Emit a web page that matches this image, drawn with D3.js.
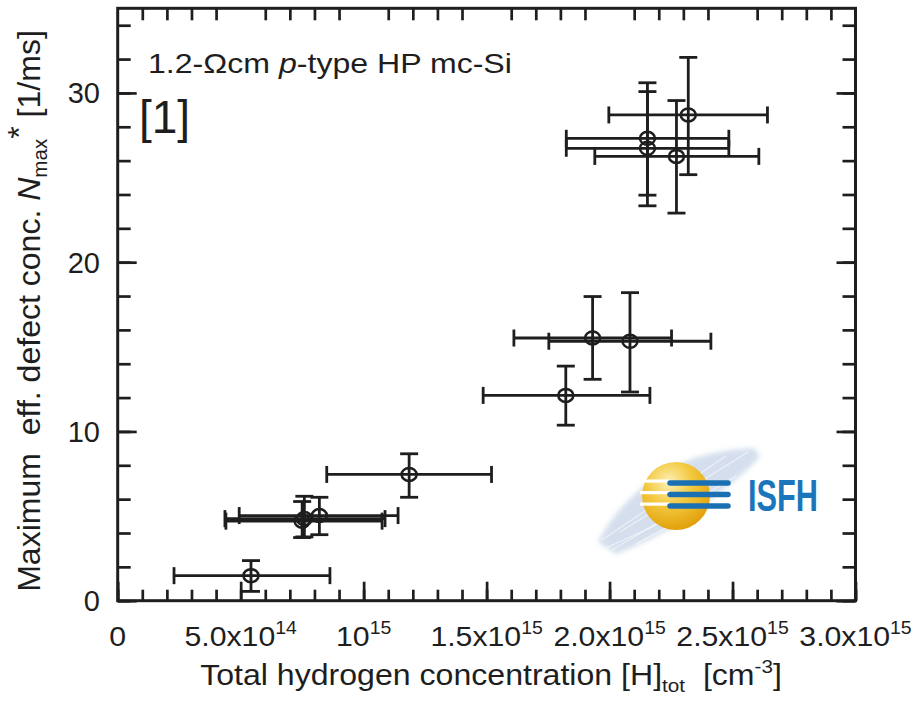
<!DOCTYPE html>
<html>
<head>
<meta charset="utf-8">
<script src="https://cdn.jsdelivr.net/npm/d3@7"></script>
<style>
  body { margin: 0; background: #fff; }
  svg { display: block; }
  text { font-family: "Liberation Sans", Arial, sans-serif; fill: #1e1e1e; }
</style>
</head>
<body>
<svg id="chart" width="917" height="710"></svg>
<script>
// hydrogen concentration [cm^-3] and N_max* [1/ms], with error bar limits
const hx     = [5.42e14, 7.59e14, 7.50e14, 8.20e14, 11.85e14, 18.22e14, 19.31e14, 20.83e14, 21.54e14, 21.54e14, 22.72e14, 23.20e14];
const hxLow  = [2.29e14, 4.36e14, 4.40e14, 4.94e14,  8.50e14, 14.86e14, 16.11e14, 17.53e14, 18.24e14, 18.24e14, 19.40e14, 19.97e14];
const hxHigh = [8.63e14, 10.87e14, 10.75e14, 11.40e14, 15.20e14, 21.64e14, 22.52e14, 24.12e14, 24.85e14, 24.85e14, 26.07e14, 26.42e14];
const ny     = [1.48, 4.85, 4.70, 5.03, 7.46, 12.13, 15.52, 15.33, 27.32, 26.73, 26.25, 28.70];
const nyLow  = [0.55, 3.77, 3.73, 3.90, 6.11, 10.37, 13.08, 12.33, 23.96, 23.33, 22.90, 25.17];
const nyHigh = [2.37, 6.17, 5.86, 6.11, 8.68, 13.86, 17.97, 18.20, 30.60, 30.08, 29.55, 32.10];

const xTickValues = [0, 5e14, 1e15, 1.5e15, 2e15, 2.5e15, 3e15];
const xTickBase   = ["0", "5.0x10", "10", "1.5x10", "2.0x10", "2.5x10", "3.0x10"];
const xTickSup    = ["", "14", "15", "15", "15", "15", "15"];
const yTickValues = [0, 10, 20, 30];

const svg = d3.select("#chart");
const ink = "#1e1e1e";

const x = d3.scaleLinear().domain([0, 3e15]).range([117.7, 855.5]);
const y = d3.scaleLinear().domain([0, 35]).range([600.7, 8.3]);

// stretch a text horizontally (in its own frame) to a given width
function fitWidth(textSel, width, sy = 1) {
  const w = textSel.node().getBBox().width;
  textSel.attr("transform", `scale(${width / w},${sy})`);
}

// ---- ticks (inward, mirrored) ----
const xMinor = d3.range(0, 30.001, 1).map(d => d * 1e14);
const yMinor = d3.range(0, 35.001, 2);
const yMajor = yTickValues;

function styleAxis(g) {
  g.select(".domain").remove();
  g.selectAll("line").attr("stroke", ink).attr("stroke-width", 2.7);
}

svg.append("g").attr("transform", `translate(0,${y(0)})`)
  .call(d3.axisBottom(x).tickValues(xMinor).tickSize(-11).tickFormat(""))
  .call(styleAxis);
svg.append("g").attr("transform", `translate(0,${y(0)})`)
  .call(d3.axisBottom(x).tickValues(xTickValues).tickSize(-19).tickFormat(""))
  .call(styleAxis);
svg.append("g").attr("transform", `translate(0,${y(35)})`)
  .call(d3.axisTop(x).tickValues(xMinor.filter((d, i) => i % 5 !== 0)).tickSize(-12).tickFormat(""))
  .call(styleAxis);
svg.append("g").attr("transform", `translate(${x(0)},0)`)
  .call(d3.axisLeft(y).tickValues(yMinor).tickSize(-13).tickFormat(""))
  .call(styleAxis);
svg.append("g").attr("transform", `translate(${x(0)},0)`)
  .call(d3.axisLeft(y).tickValues(yMajor).tickSize(-19).tickFormat(""))
  .call(styleAxis);
svg.append("g").attr("transform", `translate(${x(3e15)},0)`)
  .call(d3.axisRight(y).tickValues(yMinor).tickSize(-13).tickFormat(""))
  .call(styleAxis);
svg.append("g").attr("transform", `translate(${x(3e15)},0)`)
  .call(d3.axisRight(y).tickValues(yMajor).tickSize(-19).tickFormat(""))
  .call(styleAxis);

// frame
svg.append("rect")
  .attr("x", x(0)).attr("y", y(35))
  .attr("width", x(3e15) - x(0)).attr("height", y(0) - y(35))
  .attr("fill", "none").attr("stroke", ink).attr("stroke-width", 3);

// ---- tick labels ----
xTickValues.forEach((v, i) => {
  const g = svg.append("g").attr("transform", `translate(${x(v)},646)`);
  const t = g.append("text").attr("text-anchor", "middle").attr("font-size", 28);
  t.append("tspan").text(xTickBase[i]);
  if (xTickSup[i]) t.append("tspan").attr("font-size", 18).attr("dy", -12).text(xTickSup[i]);
  t.attr("transform", "scale(1.08,1)");
});

yTickValues.forEach(v => {
  svg.append("g").attr("transform", `translate(100,${y(v) + 10.5})`)
    .append("text").attr("text-anchor", "end").attr("font-size", 29)
    .text(v);
});

// ---- axis titles ----
{
  const g = svg.append("g").attr("transform", "translate(491,685)");
  const t = g.append("text").attr("text-anchor", "middle").attr("font-size", 29.5);
  t.append("tspan").text("Total hydrogen concentration [H]");
  t.append("tspan").attr("font-size", 19).attr("dy", 7).text("tot");
  t.append("tspan").attr("dy", -7).text("\u00a0 [cm");
  t.append("tspan").attr("font-size", 19).attr("dy", -12).text("-3");
  t.append("tspan").attr("dy", 12).text("]");
  fitWidth(t, 582);
}
{
  const g = svg.append("g").attr("transform", "translate(40,311) rotate(-90)");
  const t = g.append("text").attr("text-anchor", "middle").attr("font-size", 28);
  t.append("tspan").text("Maximum\u00a0 eff. defect conc. ");
  t.append("tspan").attr("font-style", "italic").text("N");
  t.append("tspan").attr("font-size", 18).attr("dy", 6).text("max");
  t.append("tspan").attr("dy", -15).text("*");
  t.append("tspan").attr("dy", 9).text(" [1/ms]");
  fitWidth(t, 562, 1.12);
}

// annotations
{
  const g = svg.append("g").attr("transform", "translate(148,73)");
  const t = g.append("text").attr("font-size", 27.5);
  t.append("tspan").text("1.2-\u03A9cm ");
  t.append("tspan").attr("font-style", "italic").text("p");
  t.append("tspan").text("-type HP mc-Si");
  fitWidth(t, 364);
}
svg.append("text").attr("x", 139).attr("y", 133).attr("font-size", 46).text("[1]");

// ---- ISFH logo ----
{
  const defs = svg.append("defs");
  const rg = defs.append("radialGradient").attr("id", "sun").attr("cx", "40%").attr("cy", "30%").attr("r", "75%");
  rg.append("stop").attr("offset", "0%").attr("stop-color", "#fdf0b8");
  rg.append("stop").attr("offset", "45%").attr("stop-color", "#f3c93f");
  rg.append("stop").attr("offset", "100%").attr("stop-color", "#e09c05");
  defs.append("filter").attr("id", "soft").append("feGaussianBlur").attr("stdDeviation", 2.5);

  const logo = svg.append("g").attr("transform", "translate(676,496)");
  logo.append("path")
    .attr("d", "M-78,46 C-66,22 -46,0 -22,-18 C4,-36 36,-46 78,-48 L84,-40 C70,-22 46,-6 24,12 C4,28 -24,44 -60,58 Z")
    .attr("fill", "#c2d1e5").attr("opacity", 0.7).attr("filter", "url(#soft)");
  [[-74, 44, 50, -40], [-64, 54, 60, -20], [-56, 36, 72, -44], [-40, 48, 30, 10], [-70, 52, 0, 20]].forEach(s => {
    logo.append("line").attr("x1", s[0]).attr("y1", s[1]).attr("x2", s[2]).attr("y2", s[3])
      .attr("stroke", "#fff").attr("stroke-width", 1.3).attr("opacity", 0.55);
  });
  logo.append("circle").attr("r", 34).attr("fill", "url(#sun)");
  [-13, -1.5, 10].forEach(dy => {
    logo.append("rect").attr("x", -36).attr("y", dy - 3.5).attr("width", 30).attr("height", 3.2).attr("fill", "#fff");
    logo.append("line").attr("x1", -6).attr("x2", 52).attr("y1", dy).attr("y2", dy)
      .attr("stroke", "#1b6fb3").attr("stroke-width", 5.5).attr("stroke-linecap", "round");
  });
  const g2 = logo.append("g").attr("transform", "translate(72,15)");
  const t = g2.append("text").attr("font-size", 44).attr("font-weight", "bold")
    .style("fill", "#1b75bb").text("ISFH");
  fitWidth(t, 70);
}

// ---- error bars and markers ----
const pts = d3.range(hx.length);
const eb = svg.append("g").attr("stroke", ink).attr("stroke-width", 2.8).attr("fill", "none");

eb.selectAll(".xbar").data(pts).join("line")
  .attr("x1", i => x(hxLow[i])).attr("x2", i => x(hxHigh[i]))
  .attr("y1", i => y(ny[i])).attr("y2", i => y(ny[i]));
eb.selectAll(".xcapl").data(pts).join("line")
  .attr("x1", i => x(hxLow[i])).attr("x2", i => x(hxLow[i]))
  .attr("y1", i => y(ny[i]) - 8.5).attr("y2", i => y(ny[i]) + 8.5);
eb.selectAll(".xcapr").data(pts).join("line")
  .attr("x1", i => x(hxHigh[i])).attr("x2", i => x(hxHigh[i]))
  .attr("y1", i => y(ny[i]) - 8.5).attr("y2", i => y(ny[i]) + 8.5);
eb.selectAll(".ybar").data(pts).join("line")
  .attr("x1", i => x(hx[i])).attr("x2", i => x(hx[i]))
  .attr("y1", i => y(nyLow[i])).attr("y2", i => y(nyHigh[i]));
eb.selectAll(".ycapl").data(pts).join("line")
  .attr("x1", i => x(hx[i]) - 9).attr("x2", i => x(hx[i]) + 9)
  .attr("y1", i => y(nyLow[i])).attr("y2", i => y(nyLow[i]));
eb.selectAll(".ycaph").data(pts).join("line")
  .attr("x1", i => x(hx[i]) - 9).attr("x2", i => x(hx[i]) + 9)
  .attr("y1", i => y(nyHigh[i])).attr("y2", i => y(nyHigh[i]));

svg.append("g").selectAll("ellipse").data(pts).join("ellipse")
  .attr("cx", i => x(hx[i])).attr("cy", i => y(ny[i]))
  .attr("rx", 7.5).attr("ry", 6.5)
  .attr("fill", "none").attr("stroke", ink).attr("stroke-width", 2.5);
</script>
</body>
</html>
